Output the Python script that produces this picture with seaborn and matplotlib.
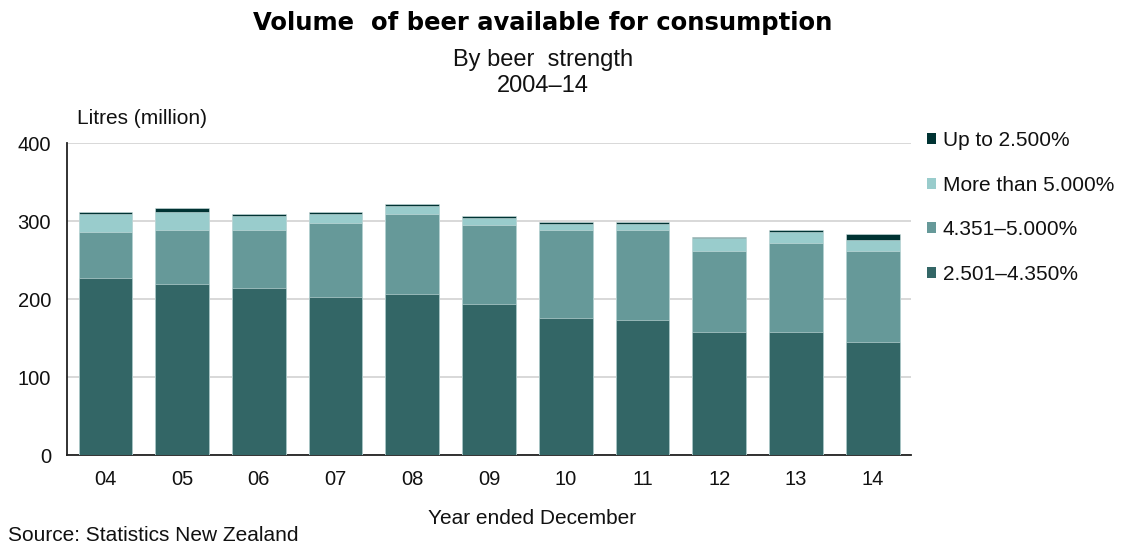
import numpy as np
import pandas as pd
import matplotlib
matplotlib.use("Agg")
import matplotlib.pyplot as plt
from matplotlib.patches import Patch
import seaborn as sns

# Volume of beer available for consumption (litres, million), by strength
years = ["04", "05", "06", "07", "08", "09", "10", "11", "12", "13", "14"]
strength_2501_4350 = [226.5, 219.0, 213.7, 203.0, 206.4, 193.6, 175.2, 172.6, 157.7, 157.7, 144.9]
strength_4351_5000 = [59.0, 69.5, 74.8, 95.0, 102.1, 101.7, 113.3, 115.9, 104.2, 114.5, 117.0]
strength_over_5000 = [23.5, 23.0, 17.5, 11.0, 10.3, 8.1, 7.2, 7.2, 15.9, 13.3, 13.3]
strength_upto_2500 = [2.5, 4.7, 3.0, 3.0, 3.0, 2.6, 3.0, 3.0, 2.1, 3.0, 8.1]

series_names = ["2.501\u20134.350%", "4.351\u20135.000%", "More than 5.000%", "Up to 2.500%"]
series_values = [strength_2501_4350, strength_4351_5000, strength_over_5000, strength_upto_2500]
colors = ["#336666", "#669999", "#99cccc", "#003333"]

sns.set_theme(style="white")
plt.rcParams["font.family"] = ["Liberation Sans", "DejaVu Sans"]

fig = plt.figure(figsize=(11.21, 5.44), dpi=100)
ax = fig.add_axes([0.0598, 0.1636, 0.7529, 0.5735])

# Stack layers by drawing cumulative totals, tallest first
cum = np.cumsum(np.array(series_values), axis=0)
for i in range(len(series_names) - 1, -1, -1):
    df = pd.DataFrame({"year": years, "value": cum[i]})
    sns.barplot(data=df, x="year", y="value", color=colors[i], saturation=1,
                width=0.70, edgecolor="#cfe3e3", linewidth=0.4, ax=ax, zorder=3)

ax.set_ylim(0, 400)
ax.set_xlim(-0.5, len(years) - 0.5)
ax.set_yticks([0, 100, 200, 300, 400])
ax.yaxis.grid(True, color="#d6d6d6", linewidth=1.3, zorder=0)
ax.xaxis.grid(False)
for s in ["top", "right"]:
    ax.spines[s].set_visible(False)
ax.spines["left"].set_color("#222222")
ax.spines["bottom"].set_color("#222222")
ax.spines["left"].set_linewidth(1.3)
ax.spines["bottom"].set_linewidth(1.3)
ax.tick_params(axis="both", length=0, labelsize=14.5, colors="#111111")
ax.tick_params(axis="y", pad=11.5)
ax.tick_params(axis="x", pad=11)
ax.set_xlabel("")
ax.set_ylabel("")

fig.text(0.484, 0.958, "Volume  of beer available for consumption", ha="center", va="center",
         fontsize=17.5, fontweight="bold", family=["DejaVu Sans"], color="#000000")
fig.text(0.4844, 0.889, "By beer  strength", ha="center", va="center", fontsize=17, color="#111111")
fig.text(0.4844, 0.841, "2004\u201314", ha="center", va="center", fontsize=17, color="#111111")
fig.text(0.069, 0.783, "Litres (million)", ha="left", va="center", fontsize=15, color="#111111")
fig.text(0.4745, 0.046, "Year ended December", ha="center", va="center", fontsize=15, color="#111111")
fig.text(0.007, 0.016, "Source: Statistics New Zealand", ha="left", va="center", fontsize=15, color="#111111")

handles = [Patch(facecolor=colors[i], edgecolor="none") for i in range(len(series_names) - 1, -1, -1)]
labels = [series_names[i] for i in range(len(series_names) - 1, -1, -1)]
fig.legend(handles, labels, loc="upper left", bbox_to_anchor=(0.8195, 0.774), frameon=False,
           fontsize=15, handlelength=0.45, handleheight=0.45, handletextpad=0.3,
           labelspacing=1.22, borderaxespad=0, labelcolor="#111111")

fig.savefig("out.png", dpi=100)
